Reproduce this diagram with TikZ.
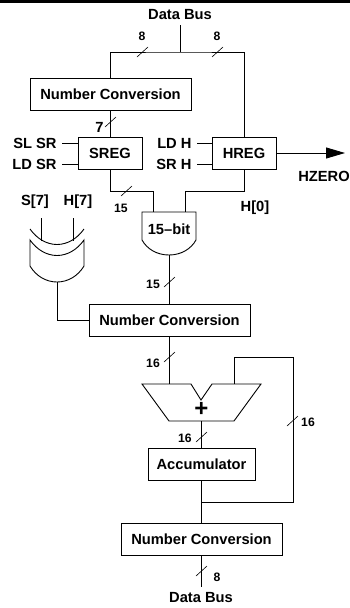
\documentclass[tikz,border=0pt]{standalone}
\usepackage{fontspec}
\setmainfont{Liberation Sans}
\usetikzlibrary{arrows.meta,calc}
\tikzset{
  blk/.style={draw,line width=0.9pt,inner sep=0pt,font=\fontsize{14.7}{16}\bfseries\selectfont},
  lbl/.style={inner sep=0pt,font=\fontsize{14.7}{16}\bfseries\selectfont},
  num/.style={inner sep=0pt,font=\fontsize{12.2}{14}\bfseries\selectfont},
  wire/.style={line width=0.9pt},
  tick/.style={line width=0.6pt},
}
\begin{document}
\begin{tikzpicture}[x=1pt,y=-1pt,wire]
\useasboundingbox (0,0) rectangle (350,608);
\fill[black] (0,0) rectangle (350,2.7);
% blocks
\node[blk,minimum width=161pt,minimum height=32pt] (nc1) at (110.5,94.5) {Number Conversion};
\node[blk,minimum width=64pt,minimum height=32pt] (sreg) at (110,153) {SREG};
\node[blk,minimum width=64pt,minimum height=32pt] (hreg) at (244,153) {HREG};
\node[blk,minimum width=161pt,minimum height=32pt] (nc2) at (169.5,320) {Number Conversion};
\node[blk,minimum width=107pt,minimum height=32pt] (acc) at (201.5,464.5) {Accumulator};
\node[blk,minimum width=161pt,minimum height=32pt] (nc3) at (201.5,539) {Number Conversion};
% labels
\node[lbl] (dbt) at (180,15) {Data Bus};
\node[lbl] (dbb) at (201,598) {Data Bus};
\node[lbl,anchor=east] (slsr) at (57,143) {SL SR};
\node[lbl,anchor=east] (ldsr) at (57,164.5) {LD SR};
\node[lbl,anchor=east] (ldh) at (192,143) {LD H};
\node[lbl,anchor=east] (srh) at (192,164.5) {SR H};
\node[lbl] (hz) at (324,176) {HZERO};
\node[lbl] (s7) at (35,202) {S[7]};
\node[lbl] (h7) at (78,202) {H[7]};
\node[lbl] (h0) at (255,208) {H[0]};
\node[lbl] (gt) at (169,229) {15--bit};
\node[num] at (142,36) {8};
\node[num] at (217,36) {8};
\node[lbl] at (99.5,127.5) {7};
\node[num] at (121,208) {15};
\node[num] at (153,284) {15};
\node[num] at (153,363) {16};
\node[num] at (185,438) {16};
\node[num] at (308,422) {16};
\node[num] at (217,577) {8};
% AND gate
\draw (142,212) -- (196,212) -- (196,240) .. controls (191,249) and (181,255) .. (169,255) .. controls (157,255) and (147,249) .. (142,240) -- cycle;
\coordinate (gin1) at (153,212);
\coordinate (gin2) at (185,212);
\coordinate (gout) at (169,255);
% XOR gate
\draw (30,229) .. controls (37,239) and (47,244.5) .. (57,244.5) .. controls (67,244.5) and (77,239) .. (84,229);
\draw (30,240) .. controls (37,250) and (47,255.5) .. (57,255.5) .. controls (67,255.5) and (77,250) .. (84,240) -- (84,266) .. controls (78,276) and (68,282) .. (57,282) .. controls (46,282) and (36,276) .. (30,266) -- cycle;
\coordinate (xin1) at (41,241);
\coordinate (xin2) at (73,241);
\coordinate (xout) at (57,282);
% adder
\draw (142,384) -- (191,384) -- (201,400) -- (212,384) -- (261,384) -- (234,421) -- (169,421) -- cycle;
\coordinate (ain1) at (169,384);
\coordinate (ain2) at (234,384);
\coordinate (aout) at (201,421);
\node[inner sep=0pt,font=\fontsize{24}{24}\bfseries\selectfont] (plus) at (201.5,409) {+};
% free ends
\coordinate (top) at (180,25);
\coordinate (busj) at (180,52);
\coordinate (fbj) at (201,502);
\coordinate (end) at (201,587);
\coordinate (hzend) at (345,153);
% wires
\draw (top) -- (busj);
\draw (nc1.north -| 110,0) |- (busj) -| (hreg.north);
\draw (110,110) -- (sreg.north);
\draw (sreg.south) |- (153,191) -- (gin1);
\draw (hreg.south) |- (185,191) -- (gin2);
\draw (62,143) -- (78,143);
\draw (62,164.5) -- (78,164.5);
\draw (197,143) -- (212,143);
\draw (197,164.5) -- (212,164.5);
\draw[-{Triangle[length=19pt,width=11pt]}] (hreg.east) -- (hzend);
\draw (41,218) -- (xin1);
\draw (73,218) -- (xin2);
\draw (xout) |- (nc2.west);
\draw (gout) -- (nc2.north -| gout);
\draw (nc2.south -| ain1) -- (ain1);
\draw (aout) -- (acc.north -| aout);
\draw (acc.south -| fbj) -- (nc3.north -| fbj);
\draw (ain2) -- (234,357) -- (293,357) -- (293,502) -- (fbj);
\draw (nc3.south -| end) -- (end);
% bus ticks
\foreach \x/\y in {137/57,212/57,105/127,121/196,164/287,164/362,196/442,287/426,196/576}
  \draw[tick] (\x,\y) -- ++(11,-10);
\end{tikzpicture}
\end{document}
